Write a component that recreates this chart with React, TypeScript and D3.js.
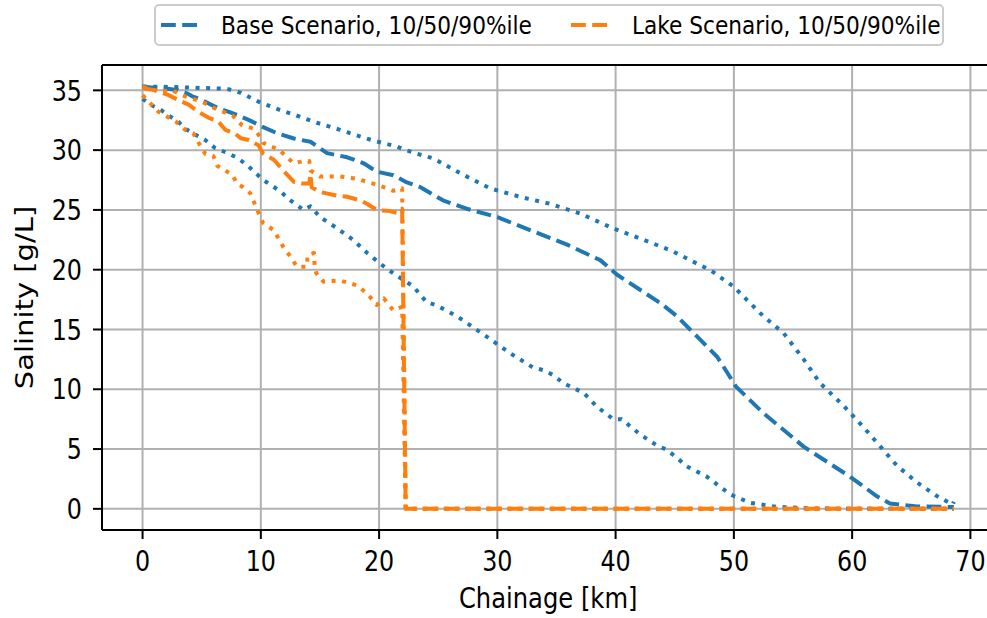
import React from "react";
import * as d3 from "d3";

// ---- data (km, salinity g/L) ----
const baseP90X = [0, 2.9, 5.0, 7.1, 8.3, 9.8, 10.2, 11.5, 13.3, 14.7, 16.7, 17.3, 19.5, 21.5, 22.1, 23.2, 24.6, 26.9, 29.4, 31.9, 34.5, 37.0, 39.8, 42.9, 44.9, 46.9, 48.0, 49.96, 52.5, 54.2, 55.9, 57.3, 59.3, 60.9, 62.4, 63.8, 65.5, 67.2, 68.5, 68.6];
const baseP90Y = [35.33, 35.27, 35.2, 35.14, 34.8, 34.06, 33.9, 33.4, 32.8, 32.3, 31.7, 31.5, 30.8, 30.3, 30.05, 29.7, 29.3, 28.05, 26.8, 26.1, 25.5, 24.7, 23.45, 22.3, 21.5, 20.5, 19.97, 18.6, 16.1, 14.7, 12.5, 10.5, 8.6, 6.9, 5.2, 3.6, 2.2, 1.05, 0.36, 0.6];

const baseP50X = [0, 2.0, 3.0, 3.75, 4.2, 5.0, 6.4, 7.3, 8.1, 9.25, 10.1, 11.4, 12.8, 14.2, 15.6, 17.3, 18.7, 19.8, 21.2, 22.35, 23.5, 25.4, 27.4, 30.0, 33.05, 35.9, 38.7, 40.1, 42.1, 43.8, 45.2, 46.4, 48.6, 50.2, 52.5, 55.9, 59.8, 62.1, 63.2, 65.5, 68.6];
const baseP50Y = [35.3, 35.15, 35.0, 34.75, 34.5, 34.2, 33.5, 33.2, 32.9, 32.4, 31.97, 31.4, 30.97, 30.7, 29.75, 29.4, 28.9, 28.2, 27.9, 27.3, 26.9, 25.8, 25.1, 24.4, 23.2, 22.1, 20.8, 19.6, 18.3, 17.2, 16.1, 14.9, 12.7, 10.2, 8.0, 5.2, 2.7, 1.05, 0.44, 0.2, 0.15];

const baseP10X = [0, 0.65, 1.5, 2.2, 3.0, 3.6, 4.45, 5.3, 6.1, 7.3, 8.1, 9.0, 10.2, 11.6, 12.5, 13.6, 14.2, 15.0, 16.4, 17.8, 19.0, 20.1, 21.2, 22.9, 24.0, 24.9, 26.6, 29.1, 31.1, 33.05, 33.9, 34.7, 35.6, 37.3, 38.4, 39.8, 40.5, 42.1, 43.5, 44.3, 45.2, 46.0, 47.7, 49.7, 51.4, 53.6, 57.0, 68.6];
const baseP10Y = [34.3, 33.8, 33.4, 32.9, 32.4, 31.8, 31.3, 30.85, 30.2, 29.7, 29.3, 28.6, 27.5, 26.6, 25.8, 25.0, 25.3, 24.4, 23.5, 22.5, 21.4, 20.5, 19.7, 18.6, 17.3, 17.0, 16.1, 14.4, 13.0, 11.8, 11.6, 11.2, 10.5, 9.7, 8.56, 7.5, 7.5, 6.2, 5.3, 4.95, 4.26, 3.56, 2.7, 1.2, 0.5, 0.17, 0.02, 0.0];

const lakeP90X = [0, 1.35, 2.5, 3.6, 5.0, 6.1, 7.6, 8.4, 9.4, 9.95, 10.2, 11.6, 12.2, 12.8, 13.6, 14.1, 14.2, 15.0, 16.7, 18.1, 19.5, 20.7, 21.2, 21.95, 22.25, 68.6];
const lakeP90Y = [35.3, 34.9, 35.0, 34.5, 34.06, 33.5, 32.9, 32.1, 31.8, 31.1, 30.6, 30.0, 29.4, 28.9, 29.1, 29.1, 28.3, 27.8, 27.8, 27.6, 27.2, 26.8, 26.6, 26.8, 0, 0];

const lakeP50X = [0, 1.1, 2.2, 3.3, 3.9, 4.7, 5.6, 6.4, 7.0, 7.8, 8.3, 9.0, 9.8, 10.2, 11.1, 11.9, 12.8, 13.6, 14.1, 14.2, 14.3, 15.0, 16.4, 17.3, 18.4, 19.0, 19.8, 20.9, 21.5, 21.95, 22.25, 68.6];
const lakeP50Y = [35.2, 35.0, 34.6, 34.06, 33.8, 33.2, 32.7, 32.4, 31.7, 31.4, 31.0, 30.85, 30.4, 29.7, 29.2, 28.3, 27.35, 27.2, 27.2, 28.0, 26.9, 26.5, 26.2, 26.1, 25.8, 25.5, 25.0, 24.9, 24.75, 25.1, 0, 0];

const lakeP10X = [0, 1.35, 1.9, 2.8, 3.6, 4.3, 4.6, 5.3, 6.0, 6.3, 7.0, 7.6, 8.0, 8.5, 9.1, 9.7, 9.95, 10.2, 11.1, 11.9, 12.5, 13.05, 13.9, 13.95, 14.5, 14.55, 14.7, 15.3, 16.7, 18.1, 19.0, 19.8, 20.4, 21.2, 21.95, 22.25, 68.6];
const lakeP10Y = [34.6, 33.2, 32.9, 32.4, 31.7, 31.4, 30.85, 29.7, 29.5, 28.7, 28.3, 27.9, 27.2, 26.9, 26.4, 25.0, 24.4, 23.9, 23.3, 21.9, 21.1, 20.25, 20.25, 21.2, 21.4, 20.25, 19.7, 19.0, 19.1, 18.7, 18.0, 17.05, 17.6, 16.6, 16.9, 0, 0];

const xTicks = [0, 10, 20, 30, 40, 50, 60, 70];
const yTicks = [0, 5, 10, 15, 20, 25, 30, 35];
const legendLabels = ["Base Scenario, 10/50/90%ile", "Lake Scenario, 10/50/90%ile"];
const BLUE = "#1f77b4";
const ORANGE = "#ff7f0e";

const W = 987;
const H = 618;
const SX = 0.85; // horizontal squeeze of text seen in the reference
const FONT = "DejaVu Sans";
const DASH = "14.8,6.4";
const DOT = "4,6.6";

const zip = (xs: number[], ys: number[]) => xs.map((v, i) => [v, ys[i]] as [number, number]);

function Txt(props: { x: number; y: number; size: number; anchor?: string; rot?: boolean; children: React.ReactNode }) {
  const { x, y, size, anchor = "start", rot, children } = props;
  return (
    <text
      transform={`translate(${x},${y}) scale(${SX},1)${rot ? " rotate(-90)" : ""}`}
      fontFamily={FONT}
      fontSize={size}
      textAnchor={anchor}
      fill="#000"
    >
      {children}
    </text>
  );
}

export default function App() {
  const x = d3.scaleLinear().domain([-3.43, 72.03]).range([102, 994.4]);
  const y = d3.scaleLinear().domain([-1.77, 37.12]).range([530, 65]);
  const line = d3
    .line<[number, number]>()
    .x((d) => x(d[0]))
    .y((d) => y(d[1]));

  const series = [
    { pts: zip(baseP10X, baseP10Y), color: BLUE, dash: DOT },
    { pts: zip(baseP50X, baseP50Y), color: BLUE, dash: DASH },
    { pts: zip(baseP90X, baseP90Y), color: BLUE, dash: DOT },
    { pts: zip(lakeP10X, lakeP10Y), color: ORANGE, dash: DOT },
    { pts: zip(lakeP50X, lakeP50Y), color: ORANGE, dash: DASH },
    { pts: zip(lakeP90X, lakeP90Y), color: ORANGE, dash: DOT },
  ];

  const left = x.range()[0];
  const right = x.range()[1];
  const top = y.range()[1];
  const bottom = y.range()[0];

  return (
    <svg width={W} height={H} style={{ position: "absolute", left: 0, top: 0, background: "#fff" }}>
      <rect x={0} y={0} width={W} height={H} fill="#fff" />
      <defs>
        <clipPath id="plotclip">
          <rect x={left} y={top} width={right - left} height={bottom - top} />
        </clipPath>
      </defs>
      {/* grid */}
      {xTicks.map((t) => (
        <line key={"gx" + t} x1={x(t)} x2={x(t)} y1={top} y2={bottom} stroke="#b0b0b0" strokeWidth={2} />
      ))}
      {yTicks.map((t) => (
        <line key={"gy" + t} x1={left} x2={right} y1={y(t)} y2={y(t)} stroke="#b0b0b0" strokeWidth={2} />
      ))}
      {/* data */}
      <g clipPath="url(#plotclip)">
        {series.map((s, i) => (
          <path
            key={i}
            d={line(s.pts) || ""}
            fill="none"
            stroke={s.color}
            strokeWidth={4}
            strokeDasharray={s.dash}
            strokeLinejoin="round"
            strokeLinecap="butt"
          />
        ))}
      </g>
      {/* spines */}
      <line x1={left} x2={left} y1={top} y2={bottom} stroke="#000" strokeWidth={2} />
      <line x1={left} x2={right} y1={bottom} y2={bottom} stroke="#000" strokeWidth={2} />
      <line x1={left} x2={right} y1={top} y2={top} stroke="#000" strokeWidth={2} />
      <line x1={right} x2={right} y1={top} y2={bottom} stroke="#000" strokeWidth={2} />
      {/* ticks */}
      {xTicks.map((t) => (
        <g key={"tx" + t}>
          <line x1={x(t)} x2={x(t)} y1={bottom} y2={bottom + 9} stroke="#000" strokeWidth={2} />
          <Txt x={x(t)} y={571} size={28} anchor="middle">
            {t}
          </Txt>
        </g>
      ))}
      {yTicks.map((t) => (
        <g key={"ty" + t}>
          <line x1={left - 9} x2={left} y1={y(t)} y2={y(t)} stroke="#000" strokeWidth={2} />
          <Txt x={82} y={y(t) + 10.2} size={28} anchor="end">
            {t}
          </Txt>
        </g>
      ))}
      {/* axis labels */}
      <Txt x={(left + right) / 2} y={608} size={28.5} anchor="middle">
        Chainage [km]
      </Txt>
      <Txt x={33} y={(top + bottom) / 2} size={29} anchor="middle" rot>
        Salinity [g/L]
      </Txt>
      {/* legend */}
      <rect x={155} y={5} width={788} height={40} rx={4} fill="#fff" fillOpacity={0.8} stroke="#cccccc" strokeWidth={2} />
      <line x1={161} x2={199} y1={25} y2={25} stroke={BLUE} strokeWidth={4} strokeDasharray={DASH} />
      <Txt x={221} y={34} size={25.5}>
        {legendLabels[0]}
      </Txt>
      <line x1={571} x2={610} y1={25} y2={25} stroke={ORANGE} strokeWidth={4} strokeDasharray={DASH} />
      <Txt x={632} y={34} size={25.5}>
        {legendLabels[1]}
      </Txt>
    </svg>
  );
}
